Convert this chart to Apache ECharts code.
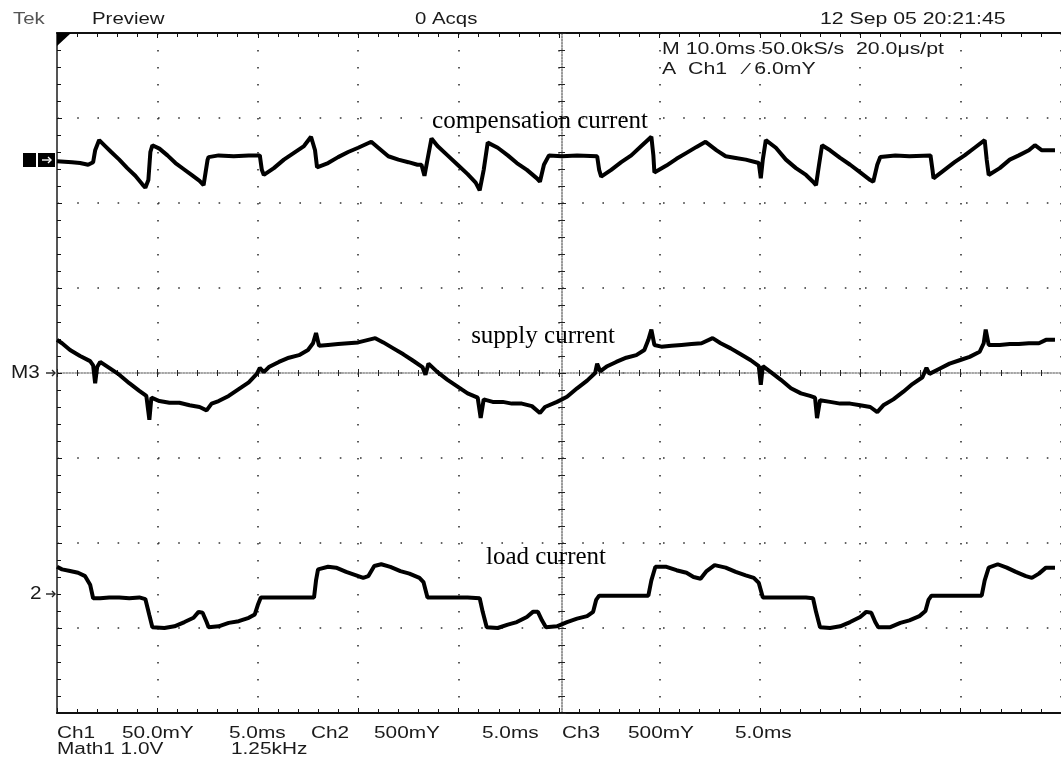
<!DOCTYPE html>
<html>
<head>
<meta charset="utf-8">
<script src="https://cdn.jsdelivr.net/npm/echarts@6/dist/echarts.min.js"></script>
<style>
  html, body { margin: 0; padding: 0; background: #fff; }
  #container { width: 1061px; height: 763px; }
</style>
</head>
<body>
<div id="container"></div>
<script>
// time in ms (10 ms/div), value in divisions from the screen centre
var compensationCurrent = [
  [0,2.49],[1.5,2.48],[2.3,2.47],[3.1,2.45],[3.6,2.48],[3.8,2.62],[4.2,2.74],[4.8,2.67],[5.4,2.60],[6.2,2.51],
  [7.0,2.41],[7.8,2.32],[8.5,2.22],[8.8,2.18],[9.1,2.27],[9.3,2.60],[9.5,2.68],[10.2,2.64],[11.0,2.56],[11.8,2.47],
  [12.6,2.40],[13.4,2.33],[14.2,2.26],[14.6,2.21],[14.8,2.36],[15.0,2.51],[15.1,2.54],[16.1,2.56],[17.6,2.55],[19.1,2.56],
  [20.2,2.56],[20.4,2.39],[20.6,2.33],[21.6,2.41],[22.6,2.51],[23.6,2.59],[24.6,2.67],[25.3,2.78],[25.7,2.62],[25.9,2.42],
  [27.0,2.47],[28.0,2.54],[29.0,2.60],[30.0,2.65],[31.3,2.72],[32.0,2.65],[33.0,2.55],[34.0,2.51],[35.0,2.48],[35.9,2.45],
  [36.3,2.45],[36.6,2.32],[36.9,2.51],[37.3,2.76],[37.9,2.67],[38.9,2.56],[39.9,2.45],[40.9,2.34],[41.7,2.24],[42.1,2.15],
  [42.5,2.39],[42.9,2.71],[43.9,2.65],[44.9,2.56],[45.8,2.47],[46.8,2.39],[47.8,2.29],[48.1,2.25],[48.5,2.45],[49.0,2.56],
  [50.3,2.55],[51.8,2.56],[53.8,2.55],[54.0,2.39],[54.2,2.31],[55.2,2.39],[56.2,2.48],[57.2,2.56],[58.2,2.67],[59.2,2.78],
  [59.4,2.56],[59.5,2.36],[60.7,2.44],[61.7,2.52],[62.7,2.59],[63.7,2.66],[64.6,2.72],[65.7,2.62],[66.6,2.55],[67.6,2.53],
  [68.6,2.51],[69.9,2.47],[70.1,2.29],[70.3,2.51],[70.6,2.74],[71.6,2.65],[72.6,2.51],[73.6,2.41],[74.6,2.33],[75.3,2.25],
  [75.6,2.21],[75.9,2.45],[76.2,2.68],[77.0,2.62],[78.0,2.53],[79.0,2.45],[80.0,2.36],[81.0,2.27],[81.3,2.25],[81.7,2.45],
  [82.0,2.54],[83.5,2.56],[84.9,2.55],[87.0,2.56],[87.2,2.39],[87.3,2.29],[88.4,2.39],[89.4,2.48],[90.4,2.56],[91.4,2.65],
  [92.4,2.74],[92.6,2.51],[92.8,2.33],[93.9,2.41],[94.9,2.51],[95.8,2.56],[96.8,2.62],[97.4,2.68],[98.1,2.62],[99.4,2.62]
];

var supplyCurrent = [
  [0,0.39],[0.5,0.35],[1.3,0.27],[2.3,0.20],[3.3,0.14],[3.6,0.09],[3.8,-0.12],[4.0,0.07],[4.3,0.13],[5.2,0.06],
  [6.2,-0.02],[7.2,-0.12],[8.2,-0.21],[8.9,-0.27],[9.2,-0.55],[9.4,-0.29],[10.2,-0.33],[11.2,-0.35],[12.2,-0.35],[13.2,-0.38],
  [14.2,-0.40],[14.9,-0.44],[15.4,-0.36],[16.1,-0.33],[17.1,-0.27],[18.1,-0.19],[19.1,-0.11],[19.9,-0.01],[20.2,0.06],[20.6,0.01],
  [21.1,0.07],[22.1,0.13],[23.1,0.18],[24.1,0.21],[25.0,0.27],[25.5,0.35],[25.8,0.47],[26.1,0.32],[27.0,0.33],[28.0,0.34],
  [29.0,0.35],[30.0,0.36],[31.0,0.39],[31.7,0.41],[32.5,0.36],[33.5,0.29],[34.5,0.22],[35.4,0.15],[36.4,0.07],[36.7,-0.02],
  [37.0,0.11],[37.9,0.01],[38.9,-0.08],[39.9,-0.16],[40.9,-0.24],[41.9,-0.29],[42.2,-0.53],[42.5,-0.31],[43.4,-0.34],[44.4,-0.34],
  [45.3,-0.36],[46.3,-0.36],[47.3,-0.39],[48.1,-0.47],[48.6,-0.40],[49.8,-0.34],[50.8,-0.28],[51.8,-0.18],[52.8,-0.09],[53.6,0.00],
  [53.8,0.11],[54.1,0.02],[54.8,0.08],[55.7,0.13],[56.7,0.18],[57.7,0.21],[58.5,0.27],[58.9,0.39],[59.2,0.51],[59.5,0.33],
  [60.2,0.31],[61.2,0.32],[62.2,0.33],[63.2,0.34],[64.2,0.35],[65.3,0.41],[66.1,0.35],[67.1,0.29],[68.1,0.22],[69.1,0.15],
  [69.9,0.08],[70.1,-0.14],[70.3,0.08],[71.1,0.01],[72.1,-0.08],[73.1,-0.18],[74.1,-0.24],[75.0,-0.27],[75.5,-0.29],[75.7,-0.53],
  [76.0,-0.32],[77.0,-0.34],[78.0,-0.36],[79.0,-0.36],[80.0,-0.38],[81.0,-0.40],[81.7,-0.46],[82.3,-0.38],[83.3,-0.31],[84.3,-0.22],
  [85.2,-0.13],[86.2,-0.05],[86.6,0.06],[86.9,-0.01],[87.9,0.05],[88.9,0.11],[89.9,0.15],[90.9,0.19],[91.9,0.25],[92.3,0.35],
  [92.5,0.51],[92.8,0.33],[93.9,0.33],[94.9,0.34],[95.8,0.34],[96.8,0.35],[97.8,0.35],[98.5,0.39],[99.4,0.39]
];

var loadCurrent = [
  [0,-2.28],[0.5,-2.31],[1.3,-2.33],[2.1,-2.35],[2.8,-2.39],[3.3,-2.49],[3.6,-2.65],[4.3,-2.65],[5.2,-2.64],[6.2,-2.64],
  [7.2,-2.65],[8.2,-2.64],[8.8,-2.66],[9.2,-2.85],[9.5,-2.99],[10.7,-3.00],[11.7,-2.98],[12.7,-2.93],[13.6,-2.88],[14.1,-2.81],
  [14.5,-2.82],[14.9,-2.93],[15.1,-2.99],[16.1,-2.98],[17.1,-2.94],[18.1,-2.92],[19.1,-2.88],[19.7,-2.84],[20.0,-2.73],[20.3,-2.64],
  [22.1,-2.64],[24.1,-2.64],[25.6,-2.64],[25.8,-2.44],[26.0,-2.31],[27.0,-2.28],[27.8,-2.29],[28.8,-2.34],[29.8,-2.38],[30.5,-2.41],
  [31.0,-2.39],[31.6,-2.27],[32.3,-2.25],[33.2,-2.28],[34.2,-2.33],[35.1,-2.36],[36.1,-2.41],[36.5,-2.46],[36.9,-2.64],[38.9,-2.64],
  [40.9,-2.64],[42.1,-2.65],[42.4,-2.81],[42.8,-2.99],[43.9,-3.00],[44.9,-2.96],[45.8,-2.93],[46.8,-2.87],[47.4,-2.81],[47.9,-2.81],
  [48.3,-2.91],[48.7,-2.99],[49.8,-2.98],[50.8,-2.93],[51.8,-2.89],[52.8,-2.86],[53.4,-2.81],[53.7,-2.67],[54.0,-2.62],[55.7,-2.62],
  [57.7,-2.62],[58.9,-2.62],[59.2,-2.44],[59.6,-2.28],[60.7,-2.28],[61.7,-2.32],[62.7,-2.35],[63.4,-2.40],[64.1,-2.42],[64.7,-2.33],
  [65.5,-2.26],[66.6,-2.29],[67.6,-2.34],[68.6,-2.38],[69.4,-2.41],[69.9,-2.47],[70.3,-2.64],[72.6,-2.64],[74.6,-2.64],[75.3,-2.65],
  [75.6,-2.81],[76.0,-2.99],[77.0,-3.00],[78.0,-2.98],[79.0,-2.93],[80.0,-2.87],[80.6,-2.81],[81.1,-2.82],[81.5,-2.93],[81.8,-2.99],
  [83.0,-2.99],[84.0,-2.94],[84.9,-2.91],[85.9,-2.86],[86.5,-2.80],[86.8,-2.67],[87.1,-2.62],[88.9,-2.62],[90.4,-2.62],[92.1,-2.62],
  [92.4,-2.44],[92.8,-2.29],[93.7,-2.25],[94.6,-2.29],[95.5,-2.34],[96.5,-2.39],[97.1,-2.41],[97.8,-2.36],[98.5,-2.29],[99.4,-2.29]
];

var traceNames = ['compensation current', 'supply current', 'load current'];
var headerTexts = ['Tek', 'Preview', '0 Acqs', '12 Sep 05 20:21:45'];
var settingsTexts = ['M 10.0ms 50.0kS/s  20.0\u03bcs/pt', 'A  Ch1   \u2215 6.0mY'];
var footerRow1 = ['Ch1', '50.0mY', '5.0ms', 'Ch2', '500mY', '5.0ms', 'Ch3', '500mY', '5.0ms'];
var footerRow2 = ['Math1 1.0V', '1.25kHz'];

var dom = document.getElementById('container');
var myChart = echarts.init(dom, null, { renderer: 'canvas' });

var sans = 'Liberation Sans, Arial, sans-serif';
var serif = 'Liberation Serif, Times New Roman, serif';
var ink = '#1a1a1a';

// scope-style text: a narrow font stretched wide, so scale it in x
function txt(s, x, y, size, opts) {
  opts = opts || {};
  return {
    type: 'text', z: 50,
    x: x, y: y,
    scaleX: opts.sx || 1,
    style: {
      text: s, x: 0, y: 0,
      font: (opts.font || (size + 'px ' + sans)),
      fill: opts.fill || ink,
      align: opts.align || 'left',
      verticalAlign: 'middle'
    }
  };
}

// small channel arrow drawn as a line with a head
function arrow(x, y, color) {
  return [
    { type: 'line', z: 60, shape: { x1: x - 5, y1: y, x2: x + 4, y2: y }, style: { stroke: color, lineWidth: 1.4 } },
    { type: 'polyline', z: 60, shape: { points: [[x + 1, y - 3], [x + 4, y], [x + 1, y + 3]] }, style: { stroke: color, lineWidth: 1.4, fill: null } }
  ];
}

function traceSeries(data) {
  return {
    type: 'line',
    data: data,
    showSymbol: false,
    symbol: 'none',
    animation: false,
    lineStyle: { color: '#000', width: 4 },
    z: 10
  };
}

var footerX1 = [57, 122, 229, 311, 374, 482, 562, 628, 735];

var graphics = [
  txt(headerTexts[0], 13, 19, 17, { fill: '#555', sx: 1.2 }),
  txt(headerTexts[1], 92, 19, 17, { sx: 1.2 }),
  txt(headerTexts[2], 415, 19, 17, { sx: 1.2 }),
  txt(headerTexts[3], 820, 19, 17, { sx: 1.25 }),
  txt(settingsTexts[0], 662, 50, 16, { sx: 1.33 }),
  txt(settingsTexts[1], 662, 70, 16, { sx: 1.33 }),
  txt(traceNames[0], 540, 121, 0, { font: '25px ' + serif, fill: '#000', align: 'center' }),
  txt(traceNames[1], 543, 336, 0, { font: '25px ' + serif, fill: '#000', align: 'center' }),
  txt(traceNames[2], 546, 557, 0, { font: '25px ' + serif, fill: '#000', align: 'center' }),
  txt(footerRow2[0], 57, 750, 16, { sx: 1.3 }),
  txt(footerRow2[1], 231, 750, 16, { sx: 1.3 }),
  // channel markers
  { type: 'rect', z: 40, shape: { x: 23, y: 153, width: 13, height: 14 }, style: { fill: '#000' } },
  { type: 'rect', z: 40, shape: { x: 38, y: 153, width: 17, height: 14 }, style: { fill: '#000' } },
  txt('M3', 11, 373, 18, { sx: 1.15 }),
  txt('2', 30, 594, 18, { sx: 1.15 }),
  // trigger position marker
  { type: 'polygon', z: 40, shape: { points: [[57, 33], [71, 33], [57, 46]] }, style: { fill: '#000' } }
];
graphics = graphics.concat(arrow(47, 160, '#fff'), arrow(51, 373, '#222'), arrow(51, 594, '#222'));
footerRow1.forEach(function (s, i) {
  graphics.push(txt(s, footerX1[i], 734, 16, { sx: 1.3 }));
});

var dotH = { color: '#333', width: 1.6, type: [1.6, 18.6] };
var dotV = { color: '#333', width: 1.6, type: [1.6, 15.4] };

var baseX = {
  type: 'value', min: 0, max: 100, interval: 10,
  axisLabel: { show: false },
  splitLine: { show: false }
};
var baseY = {
  type: 'value', min: -4, max: 4, interval: 1,
  axisLabel: { show: false },
  splitLine: { show: false }
};

var option = {
  backgroundColor: '#fff',
  animation: false,
  grid: { left: 57, top: 33, width: 1010, height: 680, containLabel: false },
  xAxis: [
    Object.assign({}, baseX, {
      position: 'bottom',
      axisLine: { show: true, onZero: false, lineStyle: { color: '#111', width: 2 } },
      axisTick: { show: true, inside: true, length: 5, lineStyle: { color: '#111' } },
      minorTick: { show: true, splitNumber: 5, length: 4, lineStyle: { color: '#111' } },
      splitLine: { show: true, lineStyle: dotV }
    }),
    Object.assign({}, baseX, {
      position: 'top',
      axisLine: { show: true, onZero: false, lineStyle: { color: '#111', width: 2 } },
      axisTick: { show: true, inside: true, length: 5, lineStyle: { color: '#111' } },
      minorTick: { show: true, splitNumber: 5, length: 4, lineStyle: { color: '#111' } }
    }),
    Object.assign({}, baseX, {
      position: 'bottom', offset: -340,
      axisLine: { show: true, onZero: false, lineStyle: { color: '#888', width: 1.5, type: [1.5, 1.5] } },
      axisTick: { show: true, inside: true, length: 4, lineStyle: { color: '#222' } },
      minorTick: { show: true, splitNumber: 5, length: 3, lineStyle: { color: '#222' } }
    }),
    Object.assign({}, baseX, {
      position: 'bottom', offset: -340,
      axisLine: { show: false, onZero: false },
      axisTick: { show: true, inside: false, length: 4, lineStyle: { color: '#222' } },
      minorTick: { show: true, splitNumber: 5, length: 3, lineStyle: { color: '#222' } }
    })
  ],
  yAxis: [
    Object.assign({}, baseY, {
      position: 'left',
      axisLine: { show: true, onZero: false, lineStyle: { color: '#555', width: 2 } },
      axisTick: { show: true, inside: true, length: 5, lineStyle: { color: '#111' } },
      minorTick: { show: true, splitNumber: 5, length: 4, lineStyle: { color: '#111' } },
      splitLine: { show: true, lineStyle: dotH }
    }),
    Object.assign({}, baseY, {
      position: 'left', offset: -505,
      axisLine: { show: true, onZero: false, lineStyle: { color: '#777', width: 1.5, type: [1.5, 1.5] } },
      axisTick: { show: true, inside: true, length: 4, lineStyle: { color: '#222' } },
      minorTick: { show: true, splitNumber: 5, length: 3, lineStyle: { color: '#222' } }
    }),
    Object.assign({}, baseY, {
      position: 'left', offset: -505,
      axisLine: { show: false, onZero: false },
      axisTick: { show: true, inside: false, length: 4, lineStyle: { color: '#222' } },
      minorTick: { show: true, splitNumber: 5, length: 3, lineStyle: { color: '#222' } }
    })
  ],
  series: [
    traceSeries(compensationCurrent),
    traceSeries(supplyCurrent),
    traceSeries(loadCurrent)
  ],
  graphic: graphics
};

myChart.setOption(option);
</script>
</body>
</html>
